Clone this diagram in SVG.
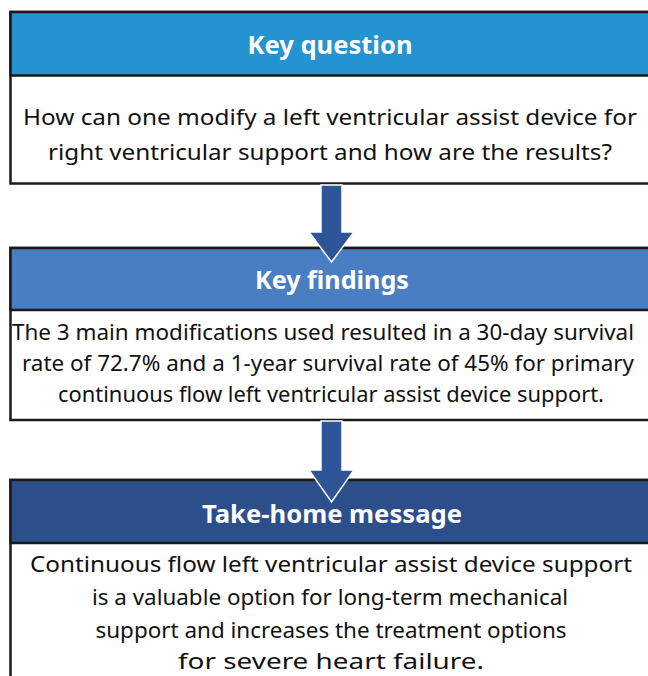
<svg xmlns="http://www.w3.org/2000/svg" width="648" height="676" viewBox="0 0 648 676">
<style>
.box{fill:#ffffff;stroke:#1a1a1a;stroke-width:2.5}
.hdr{stroke:#1a1a1a;stroke-width:2.5}
.title{font-family:"Noto Sans","Open Sans","Liberation Sans",sans-serif;font-weight:bold;font-size:25px;fill:#ffffff;text-anchor:middle}
.body{font-family:"Noto Sans","Open Sans","Liberation Sans",sans-serif;font-size:22px;fill:#111111;text-anchor:middle}
.arrow{fill:#2e5597;stroke:#ffffff;stroke-width:1.5;stroke-linejoin:miter}
</style>
<rect width="648" height="676" fill="#ffffff"/>
<g id="node-key-question">
<rect class="box" x="10.5" y="12" width="650" height="171.5"/>
<rect class="hdr" x="10.5" y="12" width="650" height="63.5" fill="#2393d2"/>
<text class="title" x="330" y="54" textLength="165" lengthAdjust="spacingAndGlyphs">Key question</text>
<text class="body" x="330" y="125" textLength="614" lengthAdjust="spacingAndGlyphs">How can one modify a left ventricular assist device for</text>
<text class="body" x="330" y="160" textLength="564" lengthAdjust="spacingAndGlyphs">right ventricular support and how are the results?</text>
</g>
<g id="node-key-findings">
<rect class="box" x="10.5" y="248" width="650" height="172"/>
<rect class="hdr" x="10.5" y="248" width="650" height="62" fill="#4a7ec2"/>
<text class="title" x="332" y="289" textLength="154" lengthAdjust="spacingAndGlyphs">Key findings</text>
<text class="body" x="323" y="340" textLength="622" lengthAdjust="spacingAndGlyphs">The 3 main modifications used resulted in a 30-day survival</text>
<text class="body" x="328" y="371" textLength="612" lengthAdjust="spacingAndGlyphs">rate of 72.7% and a 1-year survival rate of 45% for primary</text>
<text class="body" x="331" y="402" textLength="546" lengthAdjust="spacingAndGlyphs">continuous flow left ventricular assist device support.</text>
</g>
<g id="node-take-home">
<rect class="box" x="10.5" y="480" width="650" height="220"/>
<rect class="hdr" x="10.5" y="480" width="650" height="63" fill="#2c4f8c"/>
<text class="title" x="332" y="523" textLength="260" lengthAdjust="spacingAndGlyphs">Take-home message</text>
<text class="body" x="331" y="572" textLength="602" lengthAdjust="spacingAndGlyphs">Continuous flow left ventricular assist device support</text>
<text class="body" x="330" y="605" textLength="476" lengthAdjust="spacingAndGlyphs">is a valuable option for long-term mechanical</text>
<text class="body" x="331" y="638" textLength="471" lengthAdjust="spacingAndGlyphs">support and increases the treatment options</text>
<text class="body" x="331" y="669" textLength="306" lengthAdjust="spacingAndGlyphs">for severe heart failure.</text>
</g>
<g id="connectors">
<polygon class="arrow" points="321,185 342,185 342,232 354,232 331.5,262 309,232 321,232"/>
<polygon class="arrow" points="321,421 342,421 342,470 354,470 331.5,502 309,470 321,470"/>
</g>
</svg>
